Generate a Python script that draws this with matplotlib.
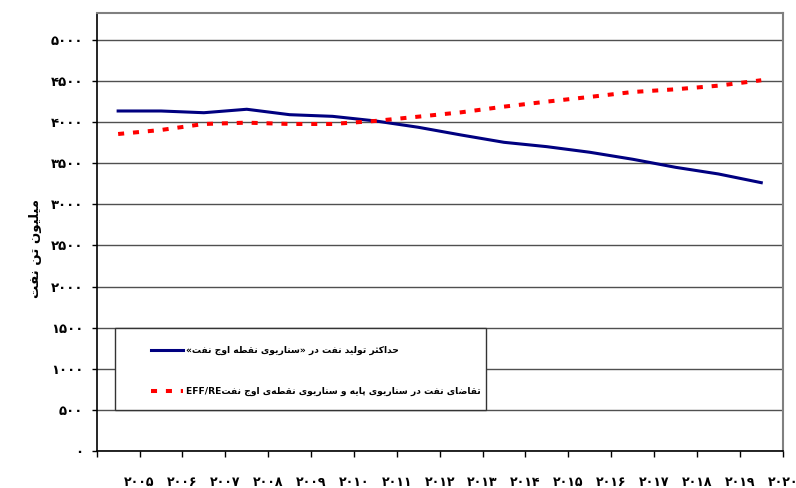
import matplotlib
matplotlib.use('Agg')
import matplotlib.pyplot as plt
import matplotlib.transforms as mtransforms
from matplotlib.patches import Rectangle
from matplotlib import font_manager, ft2font

years = ['۲۰۰۵', '۲۰۰۶', '۲۰۰۷', '۲۰۰۸', '۲۰۰۹', '۲۰۱۰', '۲۰۱۱', '۲۰۱۲',
         '۲۰۱۳', '۲۰۱۴', '۲۰۱۵', '۲۰۱۶', '۲۰۱۷', '۲۰۱۸', '۲۰۱۹', '۲۰۲۰']
# max oil production, peak oil scenario
production = [4136, 4136, 4115, 4157, 4091, 4071, 4015, 3938,
              3844, 3755, 3702, 3634, 3549, 3451, 3370, 3264]
# oil demand, base and peak oil scenario
demand = [3856, 3905, 3978, 3994, 3978, 3978, 4015, 4067,
          4120, 4189, 4250, 4307, 4367, 4400, 4444, 4510]
yticks = [0, 500, 1000, 1500, 2000, 2500, 3000, 3500, 4000, 4500, 5000]
ytick_labels = ['۰', '۵۰۰', '۱۰۰۰', '۱۵۰۰', '۲۰۰۰', '۲۵۰۰', '۳۰۰۰',
                '۳۵۰۰', '۴۰۰۰', '۴۵۰۰', '۵۰۰۰']
ylabel = 'میلیون تن نفت'
label_prod = 'حداکثر تولید نفت در «سناریوی نقطه اوج نفت»'
label_dem = 'تقاضای نفت در سناریوی پایه و سناریوی نقطه\u200cی اوج نفت'
label_dem_latin = 'EFF/RE'

# matplotlib does no arabic shaping, so do a small one by hand
FORMS = {
    '\u0627': (0xFE8D, 0xFE8E),
    '\u062A': (0xFE95, 0xFE96, 0xFE97, 0xFE98),
    '\u062B': (0xFE99, 0xFE9A, 0xFE9B, 0xFE9C),
    '\u062C': (0xFE9D, 0xFE9E, 0xFE9F, 0xFEA0),
    '\u062D': (0xFEA1, 0xFEA2, 0xFEA3, 0xFEA4),
    '\u062F': (0xFEA9, 0xFEAA),
    '\u0631': (0xFEAD, 0xFEAE),
    '\u0633': (0xFEB1, 0xFEB2, 0xFEB3, 0xFEB4),
    '\u0636': (0xFEBD, 0xFEBE, 0xFEBF, 0xFEC0),
    '\u0637': (0xFEC1, 0xFEC2, 0xFEC3, 0xFEC4),
    '\u0641': (0xFED1, 0xFED2, 0xFED3, 0xFED4),
    '\u0642': (0xFED5, 0xFED6, 0xFED7, 0xFED8),
    '\u0644': (0xFEDD, 0xFEDE, 0xFEDF, 0xFEE0),
    '\u0645': (0xFEE1, 0xFEE2, 0xFEE3, 0xFEE4),
    '\u0646': (0xFEE5, 0xFEE6, 0xFEE7, 0xFEE8),
    '\u0647': (0xFEE9, 0xFEEA, 0xFEEB, 0xFEEC),
    '\u0648': (0xFEED, 0xFEEE),
    '\u067E': (0xFB56, 0xFB57, 0xFB58, 0xFB59),
    '\u06A9': (0xFB8E, 0xFB8F, 0xFB90, 0xFB91),
    '\u06CC': (0xFBFC, 0xFBFD, 0xFBFE, 0xFBFF),
}
# fallbacks if the font lacks the persian presentation forms
FALLBACK = {0xFB90: 0xFEDB, 0xFB91: 0xFEDC, 0xFB8E: 0xFED9, 0xFB8F: 0xFEDA,
            0xFBFC: 0xFEEF, 0xFBFD: 0xFEF0, 0xFBFE: 0xFEF3, 0xFBFF: 0xFEF4,
            0xFB56: 0xFE8F, 0xFB57: 0xFE90, 0xFB58: 0xFE91, 0xFB59: 0xFE92}
MIRROR = {'«': '»', '»': '«'}

fpath = font_manager.findfont(font_manager.FontProperties(family='DejaVu Sans', weight='bold'))
ftfont = ft2font.FT2Font(fpath)


def glyph(cp):
    if ftfont.get_char_index(cp) == 0 and cp in FALLBACK:
        cp = FALLBACK[cp]
    return chr(cp)


def rtl(s):
    out = []
    for i, ch in enumerate(s):
        if ch == '\u200c':
            continue
        if ch not in FORMS:
            out.append(MIRROR.get(ch, ch))
            continue
        prev = s[i - 1] if i > 0 else ''
        nxt = s[i + 1] if i + 1 < len(s) else ''
        j_prev = prev in FORMS and len(FORMS[prev]) == 4
        j_next = len(FORMS[ch]) == 4 and nxt in FORMS
        f = FORMS[ch]
        if j_prev and j_next:
            cp = f[3]
        elif j_prev:
            cp = f[1]
        elif j_next:
            cp = f[2]
        else:
            cp = f[0]
        out.append(glyph(cp))
    return ''.join(reversed(out))


plt.rcParams['font.family'] = 'DejaVu Sans'
plt.rcParams['font.weight'] = 'bold'

fig = plt.figure(figsize=(7.96, 4.88), dpi=100)
ax = fig.add_axes([96.7 / 796, 1 - 451 / 488, 686 / 796, 438 / 488])

x = list(range(len(years)))
ax.plot(x, production, color='#000080', lw=2.2, label=rtl(label_prod), zorder=3)
ax.plot(x, demand, color='#ff0000', lw=2.9, linestyle=(0, (1.5, 2.2)),
        dash_capstyle='butt', label=label_dem_latin + rtl(label_dem), zorder=3)

ax.set_xlim(-0.5, len(years) - 0.5)
ax.set_ylim(0, 5328)
ax.set_xticks([i - 0.5 for i in range(len(years) + 1)])
ax.set_xticklabels([''] + years, fontsize=9, fontweight='bold')
ax.set_yticks(yticks)
ax.set_yticklabels(ytick_labels, fontsize=9.5, fontweight='bold')
ax.tick_params(axis='x', length=4.3, width=1, pad=14, color='black')
ax.tick_params(axis='y', length=3.6, width=1, pad=6, color='black')

ax.yaxis.grid(True, color='#505050', lw=1)
ax.set_axisbelow(True)
for side in ['left', 'bottom']:
    ax.spines[side].set_color('black')
    ax.spines[side].set_linewidth(1.2)
for side in ['top', 'right']:
    ax.spines[side].set_color('#808080')
    ax.spines[side].set_linewidth(1.5)

# legend box sits between the 500 and 1500 gridlines
trans = mtransforms.blended_transform_factory(ax.transAxes, ax.transData)
ax.add_patch(Rectangle(((115 - 96.7) / 686, 500), (486 - 115) / 686, 1000,
                       transform=trans, facecolor='white', edgecolor='#333333',
                       lw=1, zorder=4))
leg = ax.legend(loc='upper left', bbox_to_anchor=((151 - 96.7) / 686, (451 - 346) / 438),
                frameon=False, fontsize=6.6, handlelength=3.5, handletextpad=0.35,
                labelspacing=3.45, borderpad=0, borderaxespad=0)
leg.set_zorder(5)

fig.text(35 / 796, 1 - 248 / 488, rtl(ylabel), rotation=90, ha='center', va='center',
         fontsize=9.5, fontweight='bold')

fig.savefig('out.png', dpi=100)
